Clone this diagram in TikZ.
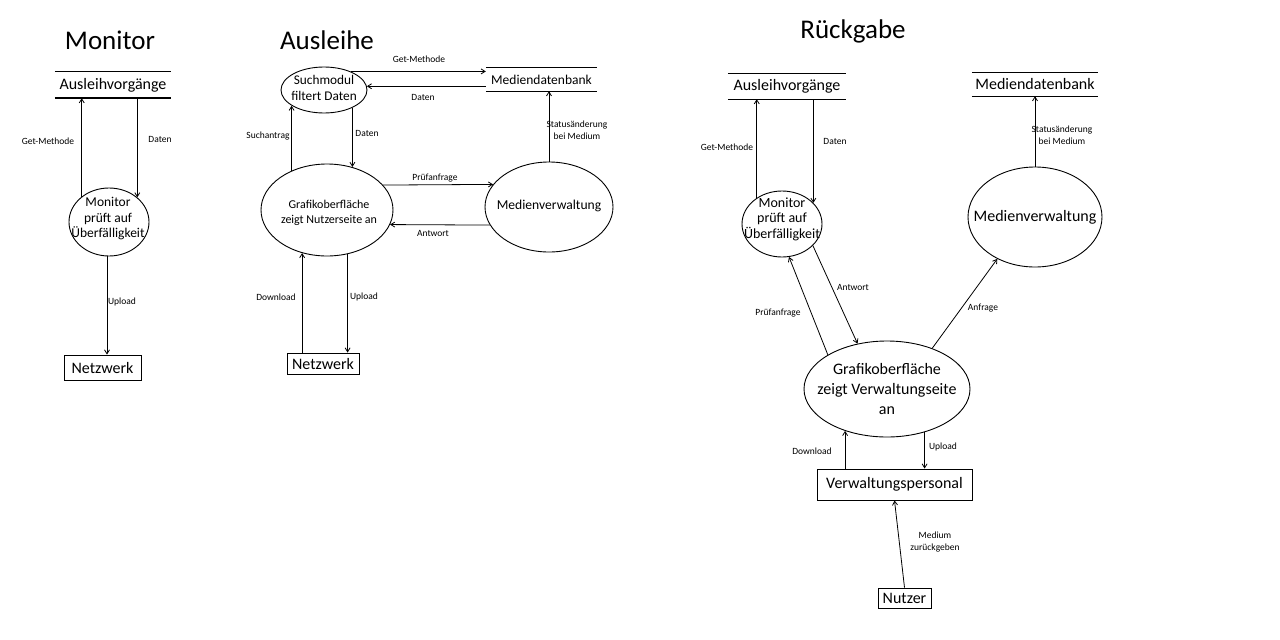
\documentclass[tikz,border=0pt]{standalone}
\usepackage{fontspec}
\setmainfont{Carlito}
\usetikzlibrary{shapes.geometric,arrows.meta}
\begin{document}
\begin{tikzpicture}[x=1pt,y=-1pt,
  arr/.style={-{Straight Barb[length=4pt,width=5pt]}, line width=0.8pt},
  proc/.style={ellipse, draw, line width=0.9pt, inner sep=0pt},
  ptxt/.style={inner sep=0pt, align=center},
  box/.style={rectangle, draw, line width=0.9pt, inner sep=0pt, font=\fontsize{16}{19}\selectfont},
  store/.style={inner sep=0pt, font=\fontsize{16}{19}\selectfont},
  sline/.style={line width=0.9pt},
  lbl/.style={inner sep=0pt, font=\fontsize{9.5}{11.5}\selectfont, align=center},
  ttl/.style={inner sep=0pt, font=\fontsize{27}{32}\selectfont}]
\useasboundingbox[fill=white] (0,0) rectangle (1280,640);

% ---------------- Monitor ----------------
\node[ttl] (t1) at (110,40) {Monitor};
\node[store, minimum width=116pt, minimum height=26pt] (ausv1) at (113,85) {Ausleihvorgänge};
\draw[sline] (ausv1.north west) -- (ausv1.north east);
\draw[line width=1.6pt] (ausv1.south west) -- (ausv1.south east);
\node[proc, minimum width=80pt, minimum height=68pt] (mon) at (109,222) {};
\node[ptxt, font=\fontsize{13.5}{15.5}\selectfont] (mont) at (108,219) {Monitor\\prüft auf\\Überfälligkeit};
\node[box, minimum width=77pt, minimum height=25pt] (net1) at (102.5,367.5) {Netzwerk};
\draw[arr] (mon.137) -- (mon.137 |- ausv1.south);
\draw[arr] (mon.41 |- ausv1.south) -- (mon.41);
\draw[arr] ([xshift=-2pt]mon.south) -- ([xshift=-2pt]mon.south |- net1.north);
\node[lbl] (l1) at (48,141) {Get-Methode};
\node[lbl] (l2) at (160,139) {Daten};
\node[lbl] (l3) at (122,302) {Upload};

% ---------------- Ausleihe ----------------
\node[ttl] (t2) at (327,40) {Ausleihe};
\node[proc, minimum width=86pt, minimum height=46pt] (such) at (324,90) {};
\node[ptxt, font=\fontsize{13.3}{16}\selectfont] (sucht) at (324,88) {Suchmodul\\filtert Daten};
\node[store, minimum width=111pt, minimum height=23pt, font=\fontsize{13.5}{16}\selectfont] (md) at (541.5,79.5) {Mediendatenbank};
\draw[sline] (md.north west) -- (md.north east);
\draw[sline] (md.south west) -- (md.south east);
\node[proc, minimum width=132pt, minimum height=92pt] (graf) at (327,210) {};
\node[ptxt, font=\fontsize{12}{15.5}\selectfont] (graft) at (329,213) {Grafikoberfläche\\zeigt Nutzerseite an};
\node[proc, minimum width=128pt, minimum height=90pt] (mv) at (549,207) {};
\node[ptxt, font=\fontsize{13.6}{16}\selectfont] (mvt) at (549,206) {Medienverwaltung};
\node[box, minimum width=72pt, minimum height=21pt] (net2) at (323,363.5) {Netzwerk};
\draw[arr] (such.35) -- (such.35 -| md.west);
\draw[arr] (such.5 -| md.west) -- (such.5);
\draw[arr] (graf.132) -- (graf.132 |- such.-154);
\draw[arr] (such.-32) -- (such.-32 |- graf.60);
\draw[arr] (graf.24) -- (mv.158.5);
\draw[arr] (mv.-163) -- (graf.-13.5);
\draw[arr] (mv.north) -- (mv.north |- md.south);
\draw[arr] (graf.-120.4 |- net2.north) -- (graf.-120.4);
\draw[arr] (graf.-65.5) -- (graf.-65.5 |- net2.north);
\node[lbl] (l4) at (419,59) {Get-Methode};
\node[lbl] (l5) at (423,97) {Daten};
\node[lbl] (l6) at (268,136) {Suchantrag};
\node[lbl] (l7) at (367,133) {Daten};
\node[lbl] (l8) at (435,178) {Prüfanfrage};
\node[lbl] (l9) at (433,233) {Antwort};
\node[lbl] (l10) at (577,130) {Statusänderung\\bei Medium};
\node[lbl] (l11) at (276,297) {Download};
\node[lbl] (l12) at (364,297) {Upload};

% ---------------- Rückgabe ----------------
\node[ttl] (t3) at (853,31) {Rückgabe};
\node[store, minimum width=118pt, minimum height=25pt] (rausv) at (787,86.5) {Ausleihvorgänge};
\draw[line width=1.2pt] (rausv.north west) -- (rausv.north east);
\draw[line width=1.2pt] (rausv.south west) -- (rausv.south east);
\node[store, minimum width=126pt, minimum height=23pt] (rmd) at (1035,84.5) {Mediendatenbank};
\draw[sline] (rmd.north west) -- (rmd.north east);
\draw[sline] (rmd.south west) -- (rmd.south east);
\node[proc, minimum width=80pt, minimum height=66pt] (rmon) at (782,224) {};
\node[ptxt, font=\fontsize{14}{15.5}\selectfont] (rmont) at (782,219) {Monitor\\prüft auf\\Überfälligkeit};
\node[proc, minimum width=134pt, minimum height=100pt] (rmv) at (1035,217) {};
\node[ptxt, font=\fontsize{16}{19}\selectfont] (rmvt) at (1035,217) {Medienverwaltung};
\node[proc, minimum width=166pt, minimum height=96pt] (rgraf) at (887,389) {};
\node[ptxt, font=\fontsize{16}{20}\selectfont] (rgraft) at (887,389) {Grafikoberfläche\\zeigt Verwaltungseite\\an};
\node[box, minimum width=155pt, minimum height=31pt] (vp) at (894.5,484.5) {Verwaltungspersonal};
\node[box, minimum width=53pt, minimum height=20pt] (nu) at (904.5,598) {Nutzer};
\draw[arr] (rmon.134) -- (rmon.134 |- rausv.south);
\draw[arr] (rmon.34 |- rausv.south) -- (rmon.34);
\draw[arr] (rmv.north) -- (rmv.north |- rmd.south);
\draw[arr] (rgraf.150) -- (rmon.-78);
\draw[arr] (rmon.-35) -- (rgraf.123);
\draw[arr] (rgraf.42) -- (rmv.-132);
\draw[arr] (rgraf.-135 |- vp.north) -- (rgraf.-135);
\draw[arr] (rgraf.-49) -- (rgraf.-49 |- vp.north);
\draw[arr] (nu.north) -- (vp.south);
\node[lbl] (l13) at (727,147) {Get-Methode};
\node[lbl] (l14) at (835,141) {Daten};
\node[lbl] (l15) at (1062,135) {Statusänderung\\bei Medium};
\node[lbl] (l16) at (778,313) {Prüfanfrage};
\node[lbl] (l17) at (853,287) {Antwort};
\node[lbl] (l18) at (983,308) {Anfrage};
\node[lbl] (l19) at (812,451) {Download};
\node[lbl] (l20) at (943,447) {Upload};
\node[lbl] (l21) at (935,542) {Medium\\zurückgeben};
\end{tikzpicture}
\end{document}
